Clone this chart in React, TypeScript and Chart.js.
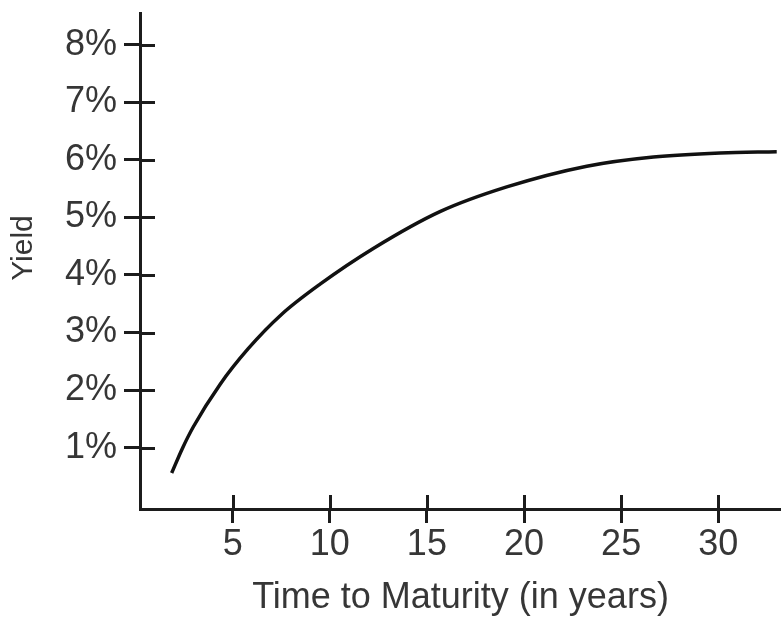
import React, { useEffect, useRef } from "react";
import { Chart, registerables } from "chart.js";

Chart.register(...registerables);

// Data
const maturityYears = [1.86, 2.4, 2.97, 4.35, 5.8, 7.5, 9.5, 12.24, 15.67, 19.11, 23.23, 26.66, 30.09, 33.01];
const yieldPct = [0.56, 0.98, 1.36, 2.1, 2.72, 3.31, 3.84, 4.46, 5.1, 5.53, 5.89, 6.05, 6.12, 6.14];
const xTickValues = [5, 10, 15, 20, 25, 30];
const yTickValues = [1, 2, 3, 4, 5, 6, 7, 8];
const xTitle = "Time to Maturity (in years)";
const yTitle = "Yield";

const FONT = "'Liberation Sans', Arial, sans-serif";
const AXIS = "#1c1c1c";
const TEXT = "#363636";

const innerTicks = {
  id: "innerTicks",
  afterDraw(chart: any) {
    const { ctx, chartArea, scales } = chart;
    ctx.save();
    ctx.strokeStyle = AXIS;
    ctx.lineWidth = 3;
    ctx.beginPath();
    for (const v of yTickValues) {
      const y = Math.round(scales.y.getPixelForValue(v)) + 0.5;
      ctx.moveTo(chartArea.left, y);
      ctx.lineTo(chartArea.left + 15, y);
    }
    for (const v of xTickValues) {
      const x = Math.round(scales.x.getPixelForValue(v)) + 0.5;
      ctx.moveTo(x, chartArea.bottom);
      ctx.lineTo(x, chartArea.bottom - 14);
    }
    ctx.stroke();
    // y axis title
    ctx.fillStyle = TEXT;
    ctx.font = `30px ${FONT}`;
    ctx.textAlign = "center";
    ctx.textBaseline = "middle";
    ctx.translate(scales.y.left + 24, (chartArea.top + chartArea.bottom) / 2 - 13);
    ctx.rotate(-Math.PI / 2);
    ctx.fillText(yTitle, 0, 0);
    ctx.restore();
  },
};

export default function App() {
  const ref = useRef<HTMLCanvasElement>(null);
  useEffect(() => {
    if (!ref.current) return;
    const chart = new Chart(ref.current, {
      type: "line",
      data: {
        datasets: [
          {
            data: maturityYears.map((x, i) => ({ x, y: yieldPct[i] })),
            borderColor: "#111",
            borderWidth: 3.5,
            pointRadius: 0,
            cubicInterpolationMode: "monotone",
            fill: false,
            borderCapStyle: "butt",
          },
        ],
      },
      options: {
        animation: false,
        responsive: false,
        maintainAspectRatio: false,
        layout: { padding: { top: 13, right: 0, bottom: 0, left: 0 } },
        plugins: { legend: { display: false }, tooltip: { enabled: false } },
        scales: {
          x: {
            type: "linear",
            min: 0.23,
            max: 33.23,
            afterFit: (s: any) => {
              s.height = 108;
              s.paddingLeft = 0;
              s.paddingRight = 0;
            },
            afterBuildTicks: (s: any) => {
              s.ticks = xTickValues.map((value) => ({ value }));
            },
            border: { display: true, color: AXIS, width: 3 },
            grid: { drawOnChartArea: false, drawTicks: true, tickLength: 14, color: AXIS, lineWidth: 3 },
            ticks: {
              color: TEXT,
              font: { family: FONT, size: 36 },
              padding: 0,
              maxRotation: 0,
              autoSkip: false,
            },
            title: {
              display: true,
              text: xTitle,
              color: TEXT,
              font: { family: FONT, size: 36, lineHeight: 1.05 },
              padding: 0,
            },
          },
          y: {
            type: "linear",
            min: -0.064,
            max: 8.55,
            afterFit: (s: any) => {
              s.width = 140;
              s.paddingTop = 0;
              s.paddingBottom = 0;
            },
            afterBuildTicks: (s: any) => {
              s.ticks = yTickValues.map((value) => ({ value }));
            },
            border: { display: true, color: AXIS, width: 3 },
            grid: { drawOnChartArea: false, drawTicks: true, tickLength: 16, color: AXIS, lineWidth: 3 },
            ticks: {
              color: TEXT,
              font: { family: FONT, size: 36 },
              padding: 7,
              autoSkip: false,
              callback: (v: any) => `${v}%`,
            },
            title: { display: false },
          },
        },
      },
      plugins: [innerTicks],
    } as any);
    return () => chart.destroy();
  }, []);
  return (
    <div style={{ position: "fixed", left: 0, top: 0, width: 781, height: 617, background: "#fff" }}>
      <canvas ref={ref} width={781} height={617} style={{ display: "block" }} />
    </div>
  );
}
